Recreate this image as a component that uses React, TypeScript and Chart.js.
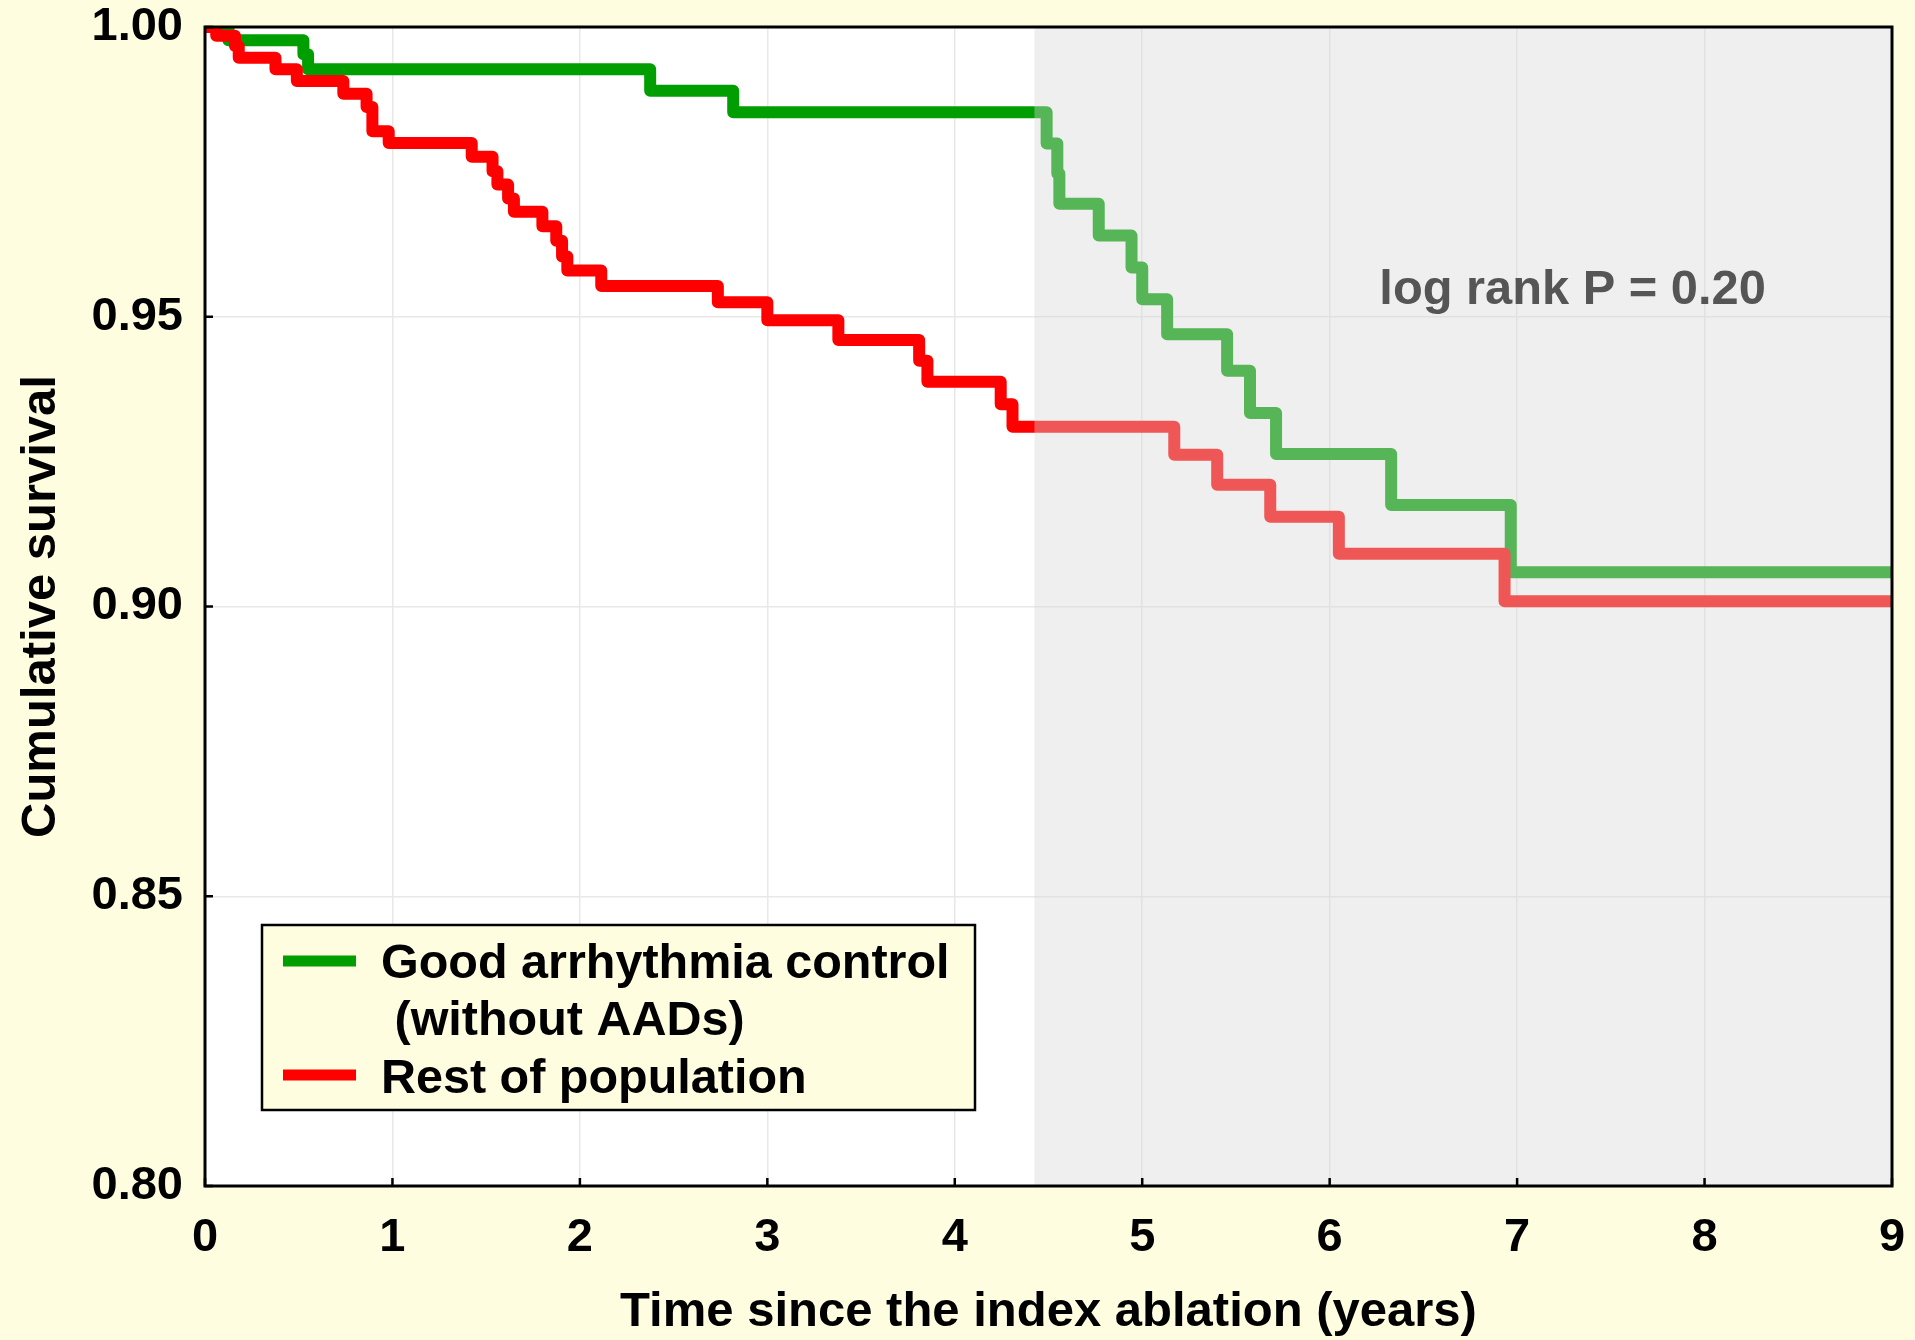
import React, { useEffect, useRef } from "react";
import { Chart, registerables } from "chart.js";

Chart.register(...registerables);

// ---- data ----
const greenTimes = [0, 0.125, 0.525, 0.55, 2.375, 2.818, 4.49, 4.547, 4.558, 4.768, 4.943, 5.0, 5.133, 5.453, 5.575, 5.714, 6.328, 6.966, 9];
const greenSurvival = [1.0, 0.9977, 0.9953, 0.9927, 0.989, 0.9853, 0.9799, 0.9747, 0.9695, 0.964, 0.9585, 0.953, 0.947, 0.9407, 0.9334, 0.9263, 0.9175, 0.9059, 0.9059];

const redTimes = [0, 0.06, 0.16, 0.18, 0.376, 0.49, 0.738, 0.862, 0.893, 0.98, 1.423, 1.534, 1.56, 1.617, 1.648, 1.8, 1.874, 1.905, 1.933, 2.114, 2.736, 3.0, 3.379, 3.81, 3.854, 4.245, 4.308, 5.171, 5.4, 5.683, 6.049, 6.933, 9];
const redSurvival = [1.0, 0.9985, 0.9967, 0.9947, 0.9927, 0.9907, 0.9885, 0.9862, 0.982, 0.98, 0.9776, 0.9751, 0.9728, 0.9704, 0.9681, 0.9656, 0.9631, 0.9604, 0.958, 0.9553, 0.9525, 0.9494, 0.946, 0.9424, 0.9388, 0.9349, 0.931, 0.9262, 0.921, 0.9155, 0.9091, 0.9009, 0.9009];

const xTickValues = [0, 1, 2, 3, 4, 5, 6, 7, 8, 9];
const yTickValues = [0.8, 0.85, 0.9, 0.95, 1.0];

const seriesLabels = ["Good arrhythmia control", " (without AADs)", "Rest of population"];
const annotationText = "log rank P = 0.20";
const xTitle = "Time since the index ablation (years)";
const yTitle = "Cumulative survival";

const shadeStart = 4.425;
const annotationX = 6.265;
const annotationY = 0.9522;

const FONT = '"Liberation Sans", Arial, Helvetica, sans-serif';
const BG = "#fffde0";
const GREEN = "#009e00";
const RED = "#ff0000";

const toPoints = (xs: number[], ys: number[]) => xs.map((x, i) => ({ x, y: ys[i] }));

const decorPlugin = {
  id: "decor",
  beforeDraw(chart: any) {
    const { ctx, chartArea: a } = chart;
    ctx.save();
    ctx.fillStyle = BG;
    ctx.fillRect(0, 0, chart.width, chart.height);
    ctx.fillStyle = "#ffffff";
    ctx.fillRect(a.left, a.top, a.right - a.left, a.bottom - a.top);
    ctx.restore();
  },
  afterDatasetsDraw(chart: any) {
    const { ctx, chartArea: a, scales } = chart;
    const x1 = scales.x.getPixelForValue(shadeStart);
    ctx.save();
    ctx.fillStyle = "rgba(215,215,215,0.4)";
    ctx.fillRect(x1, a.top, a.right - x1, a.bottom - a.top);
    ctx.restore();
  },
  afterDraw(chart: any) {
    const { ctx, chartArea: a, scales } = chart;
    ctx.save();
    // frame
    ctx.strokeStyle = "#000";
    ctx.lineWidth = 3;
    ctx.strokeRect(a.left, a.top, a.right - a.left, a.bottom - a.top);
    // inner ticks
    ctx.lineWidth = 2.5;
    ctx.beginPath();
    xTickValues.forEach((v) => {
      const px = scales.x.getPixelForValue(v);
      ctx.moveTo(px, a.bottom);
      ctx.lineTo(px, a.bottom - 8);
    });
    yTickValues.forEach((v) => {
      const py = scales.y.getPixelForValue(v);
      ctx.moveTo(a.left, py);
      ctx.lineTo(a.left + 8, py);
    });
    ctx.stroke();

    // annotation
    ctx.fillStyle = "#555555";
    ctx.font = `bold 48.8px ${FONT}`;
    ctx.textBaseline = "alphabetic";
    ctx.textAlign = "left";
    ctx.fillText(annotationText, scales.x.getPixelForValue(annotationX), scales.y.getPixelForValue(annotationY));

    // legend
    const lx = 262, ly = 925, lw = 713, lh = 185;
    ctx.fillStyle = BG;
    ctx.fillRect(lx, ly, lw, lh);
    ctx.strokeStyle = "#000";
    ctx.lineWidth = 2.5;
    ctx.strokeRect(lx, ly, lw, lh);
    const ds = chart.data.datasets;
    const greenDs = ds.find((d: any) => d.label === "green");
    const redDs = ds.find((d: any) => d.label === "red");
    ctx.lineWidth = 11;
    ctx.lineCap = "butt";
    ctx.strokeStyle = greenDs.borderColor;
    ctx.beginPath();
    ctx.moveTo(283, 961);
    ctx.lineTo(356, 961);
    ctx.stroke();
    ctx.strokeStyle = redDs.borderColor;
    ctx.beginPath();
    ctx.moveTo(283, 1075);
    ctx.lineTo(356, 1075);
    ctx.stroke();
    ctx.fillStyle = "#000";
    ctx.font = `bold 48.5px ${FONT}`;
    ctx.fillText(seriesLabels[0], 381, 978);
    ctx.fillText(seriesLabels[1], 381, 1035);
    ctx.fillText(seriesLabels[2], 381, 1093);
    ctx.restore();
  },
};

export default function App() {
  const ref = useRef<HTMLCanvasElement>(null);
  useEffect(() => {
    const canvas = ref.current;
    if (!canvas) return;
    const chart = new Chart(canvas, {
      type: "line",
      data: {
        datasets: [
          {
            label: "red",
            data: toPoints(redTimes, redSurvival),
            borderColor: RED,
            borderWidth: 12,
            borderJoinStyle: "round",
            stepped: "before",
            pointRadius: 0,
            fill: false,
            clip: 0,
          } as any,
          {
            label: "green",
            data: toPoints(greenTimes, greenSurvival),
            borderColor: GREEN,
            borderWidth: 12,
            borderJoinStyle: "round",
            stepped: "before",
            pointRadius: 0,
            fill: false,
            clip: 0,
          } as any,
        ],
      },
      options: {
        animation: false,
        responsive: false,
        maintainAspectRatio: false,
        devicePixelRatio: 1,
        layout: { padding: { top: 27, right: 23, left: 0, bottom: 0 } },
        plugins: {
          legend: { display: false },
          tooltip: { enabled: false },
          title: { display: false },
        },
        scales: {
          x: {
            type: "linear",
            min: 0,
            max: 9,
            afterBuildTicks: (s: any) => {
              s.ticks = xTickValues.map((v) => ({ value: v }));
            },
            afterFit: (s: any) => {
              s.height = 154;
              s.paddingLeft = 0;
              s.paddingRight = 0;
            },
            grid: { color: "#e8e8e8", lineWidth: 1.5, drawTicks: false },
            border: { display: false },
            ticks: {
              padding: 29,
              color: "#000",
              maxRotation: 0,
              font: { family: FONT, size: 47, weight: "bold", lineHeight: 1 },
              callback: (v: any) => String(v),
            },
            title: {
              display: true,
              text: xTitle,
              color: "#000",
              padding: { top: 0, bottom: -2 },
              font: { family: FONT, size: 49, weight: "bold", lineHeight: 1.2 },
            },
          },
          y: {
            type: "linear",
            min: 0.8,
            max: 1.0,
            afterBuildTicks: (s: any) => {
              s.ticks = yTickValues.map((v) => ({ value: v }));
            },
            afterFit: (s: any) => {
              s.width = 205;
              s.paddingTop = 0;
              s.paddingBottom = 0;
            },
            grid: { color: "#e8e8e8", lineWidth: 1.5, drawTicks: false },
            border: { display: false },
            ticks: {
              padding: 22,
              color: "#000",
              font: { family: FONT, size: 47, weight: "bold", lineHeight: 1 },
              callback: (v: any) => Number(v).toFixed(2),
            },
            title: {
              display: true,
              text: yTitle,
              color: "#000",
              padding: { top: 12, bottom: 0 },
              font: { family: FONT, size: 49, weight: "bold", lineHeight: 1.2 },
            },
          },
        },
      } as any,
      plugins: [decorPlugin],
    });
    return () => chart.destroy();
  }, []);

  return (
    <div style={{ position: "absolute", left: 0, top: 0, width: 1915, height: 1340, background: BG }}>
      <canvas ref={ref} width={1915} height={1340} style={{ display: "block", width: 1915, height: 1340 }} />
    </div>
  );
}
